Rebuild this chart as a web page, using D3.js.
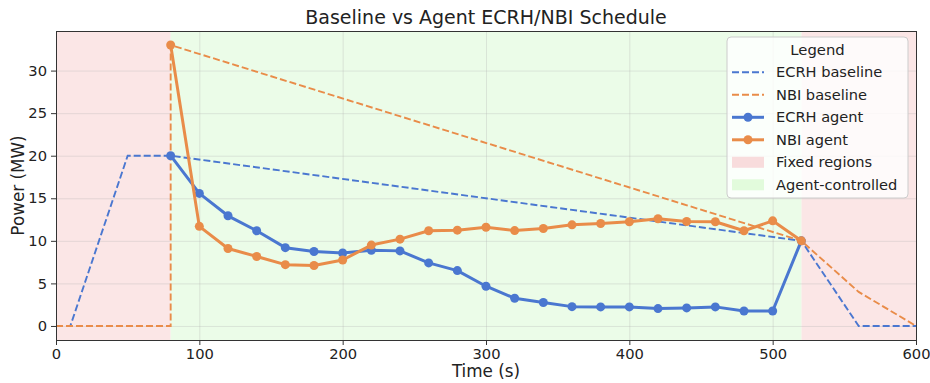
<!DOCTYPE html>
<html>
<head>
<meta charset="utf-8">
<script src="https://cdn.jsdelivr.net/npm/d3@7"></script>
<style>
    body { margin: 0; background: #fff; }
    svg text { font-family: "DejaVu Sans", sans-serif; fill: #222; }
</style>
</head>
<body>
<svg id="schedule-chart" width="930" height="383"></svg>
<script>
// agent-controlled time grid (s)
var agentTimes = [80, 100, 120, 140, 160, 180, 200, 220, 240, 260, 280, 300, 320, 340, 360, 380, 400, 420, 440, 460, 480, 500, 520];
var ecrhAgent  = [20, 15.57, 12.94, 11.18, 9.2, 8.75, 8.57, 8.9, 8.82, 7.41, 6.5, 4.67, 3.25, 2.75, 2.27, 2.24, 2.24, 2.04, 2.12, 2.24, 1.76, 1.76, 10];
var nbiAgent   = [33, 11.7, 9.1, 8.16, 7.2, 7.1, 7.75, 9.5, 10.2, 11.18, 11.25, 11.6, 11.2, 11.45, 11.88, 12.04, 12.24, 12.6, 12.27, 12.24, 11.18, 12.35, 10];

// baseline schedules
var ecrhBaseTimes = [0, 10, 50, 80, 520, 560, 600];
var ecrhBase      = [0, 0, 20, 20, 10, 0, 0];
var nbiBaseTimes  = [0, 80, 80, 520, 560, 600];
var nbiBase       = [0, 0, 33, 10, 4, 0];

// regions
var fixedRegions = [[0, 80], [520, 600]];
var agentRegion  = [80, 520];

var xTicks = [0, 100, 200, 300, 400, 500, 600];
var yTicks = [0, 5, 10, 15, 20, 25, 30];

function schedulechart()
{
    var self = {};
    self.state = {};
    self.state.id = "schedule-chart";
    self.state.margin = { left: 56, right: 14, top: 31, bottom: 43 };
    self.state.width = 930;
    self.state.height = 383;

    const l_m = self.state.margin,
          l_w = self.state.width - l_m.left - l_m.right,
          l_h = self.state.height - l_m.top - l_m.bottom,
          l_blue = "#4a77d0",
          l_orange = "#e98c49",
          l_svg = d3.select( "#" + self.state.id ),
          l_x = d3.scaleLinear().domain( [0, 600] ).range( [0, l_w] ),
          l_y = d3.scaleLinear().domain( [-1.65, 34.65] ).range( [l_h, 0] ),
          l_chart = l_svg.append( "g" )
                .attr( "transform", "translate(" + l_m.left + "," + l_m.top + ")" );

    // shaded regions
    l_chart.selectAll( ".fixed" )
            .data( fixedRegions )
        .enter().append( "rect" )
            .attr( "class", "fixed" )
            .attr( "x", function( d ) { return l_x( d[0] ); } )
            .attr( "y", 0 )
            .attr( "width", function( d ) { return l_x( d[1] ) - l_x( d[0] ); } )
            .attr( "height", l_h )
            .style( "fill", "#fbe6e6" );
    l_chart.append( "rect" )
        .attr( "x", l_x( agentRegion[0] ) )
        .attr( "y", 0 )
        .attr( "width", l_x( agentRegion[1] ) - l_x( agentRegion[0] ) )
        .attr( "height", l_h )
        .style( "fill", "#ebfce8" );

    // grid
    l_chart.append( "g" )
        .call( d3.axisBottom( l_x ).tickValues( xTicks ).tickSize( l_h ).tickFormat( "" ) )
        .call( function( g ) { g.select( ".domain" ).remove(); } );
    l_chart.append( "g" )
        .call( d3.axisLeft( l_y ).tickValues( yTicks ).tickSize( -l_w ).tickFormat( "" ) )
        .call( function( g ) { g.select( ".domain" ).remove(); } );
    l_chart.selectAll( ".tick line" ).style( "stroke", "#b0b0b0" ).style( "stroke-opacity", 0.35 ).style( "stroke-width", 0.9 );

    // baselines
    var l_line = d3.line()
        .x( function( d ) { return l_x( d[0] ); } )
        .y( function( d ) { return l_y( d[1] ); } );
    var l_series = [
        { pts: d3.zip( ecrhBaseTimes, ecrhBase ), color: l_blue },
        { pts: d3.zip( nbiBaseTimes, nbiBase ), color: l_orange }
    ];
    l_chart.selectAll( ".base" )
            .data( l_series )
        .enter().append( "path" )
            .attr( "class", "base" )
            .attr( "d", function( d ) { return l_line( d.pts ); } )
            .style( "fill", "none" )
            .style( "stroke", function( d ) { return d.color; } )
            .style( "stroke-width", 1.9 )
            .style( "stroke-dasharray", "7,3" );

    // agent lines
    var l_agents = [
        { pts: d3.zip( agentTimes, ecrhAgent ), color: l_blue },
        { pts: d3.zip( agentTimes, nbiAgent ), color: l_orange }
    ];
    l_agents.forEach( function( s ) {
        l_chart.append( "path" )
            .attr( "d", l_line( s.pts ) )
            .style( "fill", "none" )
            .style( "stroke", s.color )
            .style( "stroke-width", 3 )
            .style( "stroke-linejoin", "round" );
        l_chart.append( "g" ).selectAll( "circle" )
                .data( s.pts )
            .enter().append( "circle" )
                .attr( "cx", function( d ) { return l_x( d[0] ); } )
                .attr( "cy", function( d ) { return l_y( d[1] ); } )
                .attr( "r", 4.5 )
                .style( "fill", s.color );
    } );

    // axes
    var l_xaxis = l_chart.append( "g" )
        .attr( "transform", "translate(0," + l_h + ")" )
        .call( d3.axisBottom( l_x ).tickValues( xTicks ).tickSize( 5 ).tickPadding( 4 ) );
    var l_yaxis = l_chart.append( "g" )
        .call( d3.axisLeft( l_y ).tickValues( yTicks ).tickSize( 5 ).tickPadding( 4 ) );
    [l_xaxis, l_yaxis].forEach( function( a ) {
        a.select( ".domain" ).remove();
        a.selectAll( "text" ).style( "font-size", "14.7px" ).style( "font-family", "DejaVu Sans" ).style( "fill", "#222" );
        a.selectAll( "line" ).style( "stroke", "#333" ).style( "stroke-width", 1 );
    } );

    // frame
    l_chart.append( "rect" )
        .attr( "width", l_w )
        .attr( "height", l_h )
        .style( "fill", "none" )
        .style( "stroke", "#333" )
        .style( "stroke-width", 1 )
        .style( "shape-rendering", "crispEdges" );

    // titles
    l_svg.append( "text" )
        .attr( "x", l_m.left + l_w / 2 )
        .attr( "y", 24 )
        .attr( "text-anchor", "middle" )
        .style( "font-size", "19px" )
        .text( "Baseline vs Agent ECRH/NBI Schedule" );
    l_svg.append( "text" )
        .attr( "x", l_m.left + l_w / 2 )
        .attr( "y", 377 )
        .attr( "text-anchor", "middle" )
        .style( "font-size", "16.8px" )
        .text( "Time (s)" );
    l_svg.append( "text" )
        .attr( "transform", "translate(24," + ( l_m.top + l_h / 2 ) + ") rotate(-90)" )
        .attr( "text-anchor", "middle" )
        .style( "font-size", "16.8px" )
        .text( "Power (MW)" );

    // legend
    var l_legend = l_svg.append( "g" ).attr( "transform", "translate(727,37)" );
    l_legend.append( "rect" )
        .attr( "width", 181 )
        .attr( "height", 161 )
        .attr( "rx", 4 )
        .style( "fill", "rgba(255,255,255,0.8)" )
        .style( "stroke", "#ccc" )
        .style( "stroke-width", 1 );
    l_legend.append( "text" )
        .attr( "x", 90.5 )
        .attr( "y", 18 )
        .attr( "text-anchor", "middle" )
        .style( "font-size", "14.8px" )
        .text( "Legend" );
    var l_items = [
        { label: "ECRH baseline", color: l_blue, kind: "dash" },
        { label: "NBI baseline", color: l_orange, kind: "dash" },
        { label: "ECRH agent", color: l_blue, kind: "marker" },
        { label: "NBI agent", color: l_orange, kind: "marker" },
        { label: "Fixed regions", color: "#f8dcdc", kind: "patch" },
        { label: "Agent-controlled", color: "#e2fbdc", kind: "patch" }
    ];
    var l_row = l_legend.selectAll( ".row" )
            .data( l_items )
        .enter().append( "g" )
            .attr( "class", "row" )
            .attr( "transform", function( d, i ) { return "translate(0," + ( 35.3 + i * 22.5 ) + ")"; } );
    l_row.filter( function( d ) { return d.kind !== "patch"; } ).append( "line" )
        .attr( "x1", 5 ).attr( "x2", 37 )
        .style( "stroke", function( d ) { return d.color; } )
        .style( "stroke-width", function( d ) { return d.kind === "dash" ? 1.9 : 3; } )
        .style( "stroke-dasharray", function( d ) { return d.kind === "dash" ? "7,3" : null; } );
    l_row.filter( function( d ) { return d.kind === "marker"; } ).append( "circle" )
        .attr( "cx", 21 ).attr( "r", 4.5 )
        .style( "fill", function( d ) { return d.color; } );
    l_row.filter( function( d ) { return d.kind === "patch"; } ).append( "rect" )
        .attr( "x", 5 ).attr( "y", -5.5 ).attr( "width", 32 ).attr( "height", 11 )
        .style( "fill", function( d ) { return d.color; } );
    l_row.append( "text" )
        .attr( "x", 49 )
        .attr( "dy", "0.35em" )
        .style( "font-size", "14.6px" )
        .text( function( d ) { return d.label; } );
}

schedulechart();
</script>
</body>
</html>
